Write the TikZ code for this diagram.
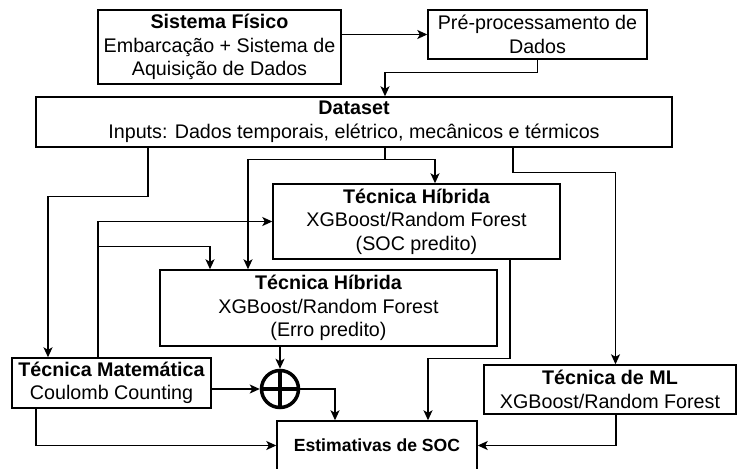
\documentclass[tikz,border=0pt]{standalone}
\usepackage{fontspec}
\setmainfont{Liberation Sans}
\usetikzlibrary{arrows.meta}

\begin{document}
\begin{tikzpicture}[x=1pt,y=-1pt,
  box/.style={draw, line width=1.4pt, inner sep=0pt, align=center,
    font=\fontsize{19.7}{23.5}\selectfont},
  conn/.style={line width=1.4pt, -{Stealth[length=10pt,width=9pt,inset=2.5pt]}},
  plain/.style={line width=1.4pt},
  sumop/.style={circle, draw, line width=3.5pt, minimum size=37pt, inner sep=0pt}]
\useasboundingbox (0,0) rectangle (737,469);
\clip (0,0) rectangle (737,469);

% blocks
\node[box, minimum width=243pt, minimum height=74pt] (fis) at (219.5,47)
  {\textbf{Sistema Físico}\\Embarcação + Sistema de\\Aquisição de Dados};
\node[box, minimum width=219pt, minimum height=49pt] (pre) at (537.5,34.5)
  {Pré-processamento de\\Dados};
\node[box, minimum width=636pt, minimum height=50pt] (data) at (354,122)
  {\textbf{Dataset}\\Inputs: Dados temporais, elétrico, mecânicos e térmicos};
\node[box, minimum width=287pt, minimum height=75pt] (soc) at (416.5,221.5)
  {\textbf{Técnica Híbrida}\\XGBoost/Random Forest\\(SOC predito)};
\node[box, minimum width=337pt, minimum height=76pt] (erro) at (328.5,308)
  {\textbf{Técnica Híbrida}\\XGBoost/Random Forest\\(Erro predito)};
\node[box, minimum width=199pt, minimum height=50pt] (mat) at (111.5,383)
  {\textbf{Técnica Matemática}\\Coulomb Counting};
\node[box, minimum width=252pt, minimum height=49pt] (ml) at (610,389.5)
  {\textbf{Técnica de ML}\\XGBoost/Random Forest};
\node[box, minimum width=200pt, minimum height=49pt,
  font=\bfseries\fontsize{17.6}{20}\selectfont] (est) at (377,445.5)
  {Estimativas de SOC};

% summing junction
\node[sumop] (sum) at (280,389) {};
\draw[line width=3.5pt] (sum.north) -- (sum.south);
\draw[line width=3.5pt] (sum.west) -- (sum.east);

% connectors
\draw[conn] (fis.east |- pre.west) -- (pre.west);
\draw[conn] (pre.south) -- ++(0,13) -| ([xshift=31pt]data.north);

\draw[conn] ([xshift=-206pt]data.south) -- ++(0,49) -| ([xshift=-63.5pt]mat.north);
\draw[plain] ([xshift=31pt]data.south) -- ++(0,12) coordinate (br);
\draw[conn] (br) -| ([xshift=18.5pt]soc.north);
\draw[conn] (br) -| ([xshift=-80.5pt]erro.north);
\draw[conn] ([xshift=159pt]data.south) -- ++(0,25) -| ([xshift=5.5pt]ml.north);

\draw[conn] ([xshift=-13.5pt]mat.north) |- (soc.west);
\draw[conn] ([xshift=-13.5pt]mat.north) ++(0,-111) -| ([xshift=-118.5pt]erro.north);

\draw[conn] (erro.south -| sum.north) -- (sum.north);
\draw[conn] (mat.east |- sum.west) -- (sum.west);
\draw[conn] (sum.east) -| ([xshift=-42pt]est.north);
\draw[conn] ([xshift=93.5pt]soc.south) -- ++(0,99) -| ([xshift=51pt]est.north);
\draw[conn] ([xshift=-75.5pt]mat.south) |- (est.west);
\draw[conn] ([xshift=6pt]ml.south) |- (est.east);
\end{tikzpicture}
\end{document}
